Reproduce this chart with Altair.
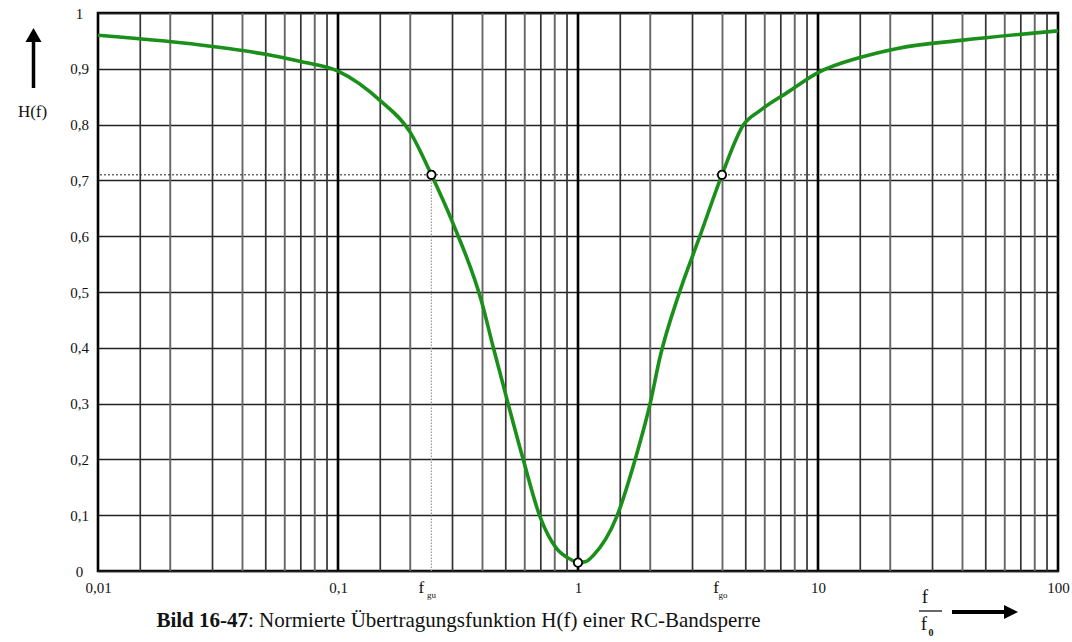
import altair as alt
import pandas as pd

# ---- data ----
curve_f = [0.01, 0.03, 0.05, 0.07, 0.1, 0.15, 0.2, 0.245, 0.302, 0.397, 0.444,
           0.512, 0.592, 0.695, 0.815, 0.93, 1.0, 1.08, 1.158, 1.449, 1.728, 1.995,
           2.196, 2.65, 3.22, 3.98, 4.9, 5.73, 7.6, 10, 15.2, 21.7, 39.4, 100]
curve_h = [0.96, 0.94, 0.926, 0.913, 0.896, 0.843, 0.786, 0.71, 0.622, 0.482, 0.40,
           0.299, 0.199, 0.097, 0.04, 0.021, 0.015, 0.017, 0.028, 0.097, 0.199, 0.299,
           0.383, 0.5, 0.6, 0.71, 0.8, 0.825, 0.86, 0.893, 0.921, 0.937, 0.951, 0.968]

marker_f = [0.245, 1.0, 3.98]
marker_h = [0.71, 0.015, 0.71]

h_cut = 0.71
f_gu = 0.245
f_go = 3.98

x_tick_values = [0.01, 0.1, 1, 10, 100]
y_tick_values = [0, 0.1, 0.2, 0.3, 0.4, 0.5, 0.6, 0.7, 0.8, 0.9, 1]

decades = [0.01, 0.1, 1, 10]
minor_mult = [1.5, 2, 3, 4, 5, 6, 7, 8, 9]
minor_shade = ["dark", "gray", "dark", "gray", "dark", "gray", "dark", "gray", "dark"]
major_lines = [0.1, 1, 10]

caption_bold = "Bild 16-47"
caption_text = ": Normierte Übertragungsfunktion H(f) einer RC-Bandsperre"

SERIF = "Liberation Serif"

# ---- tables ----
curve = pd.DataFrame({"f": curve_f, "h": curve_h})
markers = pd.DataFrame({"f": marker_f, "h": marker_h})
grid_rows = []
for d in decades:
    for m, s in zip(minor_mult, minor_shade):
        grid_rows.append({"f": d * m, "shade": s})
grid = pd.DataFrame(grid_rows)
major = pd.DataFrame({"f": major_lines})
one = pd.DataFrame({"a": [0]})

xscale = alt.Scale(type="log", domain=[0.01, 100])
yscale = alt.Scale(domain=[0, 1])

x_axis = alt.Axis(values=x_tick_values, grid=False, ticks=False, domain=False,
                  labelFont=SERIF, labelFontSize=15, labelColor="#111",
                  labelPadding=9, labelFlush=False, labelOverlap=False,
                  labelExpr="replace(format(datum.value, '~g'), '.', ',')", title=None)
y_axis = alt.Axis(values=y_tick_values, grid=True, gridColor="#222", gridWidth=1.3,
                  ticks=False, domain=False, labelFont=SERIF, labelFontSize=15,
                  labelColor="#111", labelAlign="center", labelPadding=19,
                  labelFlush=False, labelOverlap=False,
                  labelExpr="replace(format(datum.value, '.1~f'), '.', ',')", title=None)

base_x = alt.X("f:Q", scale=xscale, axis=x_axis)

hgrid = alt.Chart(curve).mark_line(opacity=0).encode(
    x=base_x, y=alt.Y("h:Q", scale=yscale, axis=y_axis))

vgrid_dark = alt.Chart(grid).transform_filter("datum.shade == 'dark'").mark_rule(
    color="#333", strokeWidth=1.7).encode(x=alt.X("f:Q", scale=xscale))
vgrid_gray = alt.Chart(grid).transform_filter("datum.shade == 'gray'").mark_rule(
    color="#666", strokeWidth=1.9).encode(x=alt.X("f:Q", scale=xscale))
vmajor = alt.Chart(major).mark_rule(color="#000", strokeWidth=2.6).encode(
    x=alt.X("f:Q", scale=xscale))

hdot = alt.Chart(one).mark_rule(color="#222", strokeDash=[2, 2], strokeWidth=1).encode(
    y=alt.datum(h_cut, scale=yscale))
vdot = alt.Chart(one).mark_rule(color="#999", strokeDash=[1.5, 1.5], strokeWidth=1.2).encode(
    x=alt.datum(f_gu, scale=xscale), y=alt.datum(0, scale=yscale), y2=alt.datum(h_cut))

line = alt.Chart(curve).mark_line(color="#1a8f1a", strokeWidth=3.6,
                                  interpolate="monotone").encode(
    x=alt.X("f:Q", scale=xscale), y=alt.Y("h:Q", scale=yscale))

pts = alt.Chart(markers).mark_point(shape="circle", filled=True, fill="white",
                                    stroke="black", strokeWidth=1.8, size=70,
                                    opacity=1).encode(
    x=alt.X("f:Q", scale=xscale), y=alt.Y("h:Q", scale=yscale))

def fg_label(fv, dx_f, dx_sub, sub):
    f_txt = alt.Chart(one).mark_text(text="f", font=SERIF, fontSize=17, dx=dx_f,
                                     color="#111", baseline="middle").encode(
        x=alt.datum(fv, scale=xscale), y=alt.value(575))
    s_txt = alt.Chart(one).mark_text(text=sub, font=SERIF, fontSize=9, dx=dx_sub,
                                     color="#111", baseline="middle").encode(
        x=alt.datum(fv, scale=xscale), y=alt.value(582))
    return f_txt + s_txt

def deco_text(txt, x, y, size, weight="normal", align="center"):
    return alt.Chart(one).mark_text(text=txt, font=SERIF, fontSize=size,
                                    fontWeight=weight, align=align, baseline="middle",
                                    color="#111").encode(x=alt.value(x), y=alt.value(y))

# y title + up arrow
ytitle = deco_text("H(f)", -65.5, 99, 17)
up_shaft = alt.Chart(one).mark_rule(color="black", strokeWidth=3.5).encode(
    x=alt.value(-64.5), y=alt.value(29), y2=alt.value(75))
up_head = alt.Chart(one).mark_point(shape="M-1,0.875 L0,-0.875 L1,0.875 Z", filled=True,
                                    color="black", size=256, opacity=1).encode(
    x=alt.value(-64.5), y=alt.value(22))

# caption (bold part right-aligned, normal part left-aligned at the same point)
cap_split = 150
cap1 = deco_text(caption_bold, cap_split, 608, 21, weight="bold", align="right")
cap2 = deco_text(caption_text, cap_split, 608, 21, align="left")

# f / f0 with right arrow
frac_top = deco_text("f", 827, 584, 19)
frac_line = alt.Chart(one).mark_rule(color="black", strokeWidth=1.2).encode(
    x=alt.value(821), x2=alt.value(844), y=alt.value(598))
frac_bot = deco_text("f", 826, 611, 19)
frac_sub = deco_text("0", 833, 620, 10, weight="bold")
right_shaft = alt.Chart(one).mark_rule(color="black", strokeWidth=4).encode(
    x=alt.value(854), x2=alt.value(908), y=alt.value(599))
right_head = alt.Chart(one).mark_point(shape="M-1,-1 L1,0 L-1,1 Z", filled=True,
                                       color="black", size=196, opacity=1).encode(
    x=alt.value(913), y=alt.value(599))

chart = alt.layer(
    hgrid, vgrid_gray, vgrid_dark, vmajor, hdot, vdot, line, pts,
    fg_label(f_gu, -10, 0, "gu"), fg_label(f_go, -6, 1, "go"),
    ytitle, up_shaft, up_head, cap1, cap2,
    frac_top, frac_line, frac_bot, frac_sub, right_shaft, right_head,
).properties(
    width=960, height=558,
    autosize=alt.AutoSizeParams(type="none"),
    padding={"left": 98, "top": 13, "right": 14, "bottom": 71},
    background="white",
).configure_view(stroke="black", strokeWidth=2.6)

chart.save("out.html", embed_options={"renderer": "svg", "actions": False})
